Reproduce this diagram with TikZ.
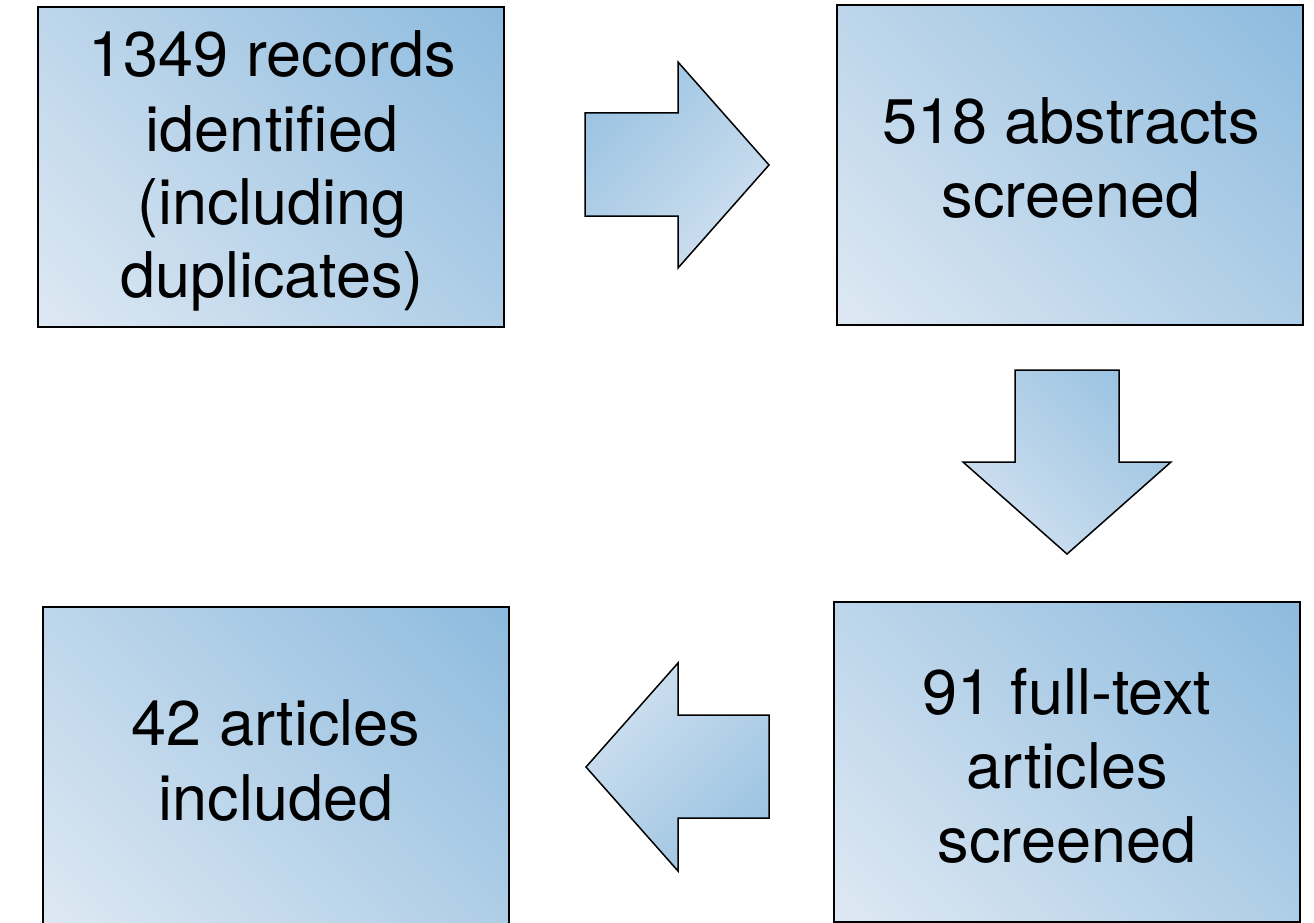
\documentclass[tikz,border=0pt]{standalone}
\usepackage{fontspec}
\setmainfont{TeX Gyre Heros}
\definecolor{bdark}{RGB}{138,185,221}
\definecolor{blight}{RGB}{225,234,244}
\tikzset{
  box/.style={draw=black, line width=1.5pt, rectangle, minimum width=466pt, minimum height=320pt, inner sep=0pt,
    path picture={\shade[top color=bdark, bottom color=blight, shading angle=-45]
      ([shift={(-300pt,-300pt)}]path picture bounding box.center) rectangle
      ([shift={(300pt,300pt)}]path picture bounding box.center);}},
  blockarrow/.style={draw=black, line width=1.5pt, line join=miter, top color=bdark!85!white, bottom color=blight!80!bdark},
  txt/.style={anchor=base, inner sep=0pt, font=\fontsize{63pt}{74pt}\selectfont}
}
\begin{document}
\begin{tikzpicture}[x=1pt,y=-1pt]
\useasboundingbox (0,0) rectangle (1314,923);
% boxes
\node[box] (b1) at (271,167) {};
\node[box] (b2) at (1070,165) {};
\node[box] (b3) at (1067,762) {};
\node[box] (b4) at (276,767) {};
% texts
\node[txt] (t1a) at (272,77) {1349 records};
\node[txt] (t1b) at (272,151) {identified};
\node[txt] (t1c) at (272,224) {(including};
\node[txt] (t1d) at (272,297) {duplicates)};
\node[txt] (t2a) at (1071,143) {518 abstracts};
\node[txt] (t2b) at (1071,217) {screened};
\node[txt] (t3a) at (1067,714) {91 full-text};
\node[txt] (t3b) at (1067,788) {articles};
\node[txt] (t3c) at (1067,862) {screened};
\node[txt] (t4a) at (276,745) {42 articles};
\node[txt] (t4b) at (276,820) {included};
% block arrows
\draw[blockarrow, shading angle=45] (585,113) -- (678,113) -- (678,62) -- (769,165) -- (678,268) -- (678,216) -- (585,216) -- cycle;
\draw[blockarrow, shading angle=-45] (1015,370) -- (1119,370) -- (1119,462) -- (1171,462) -- (1067,554) -- (963,462) -- (1015,462) -- cycle;
\draw[blockarrow, shading angle=-135] (769,715) -- (678,715) -- (678,663) -- (586,767) -- (678,871) -- (678,818) -- (769,818) -- cycle;
\end{tikzpicture}
\end{document}
